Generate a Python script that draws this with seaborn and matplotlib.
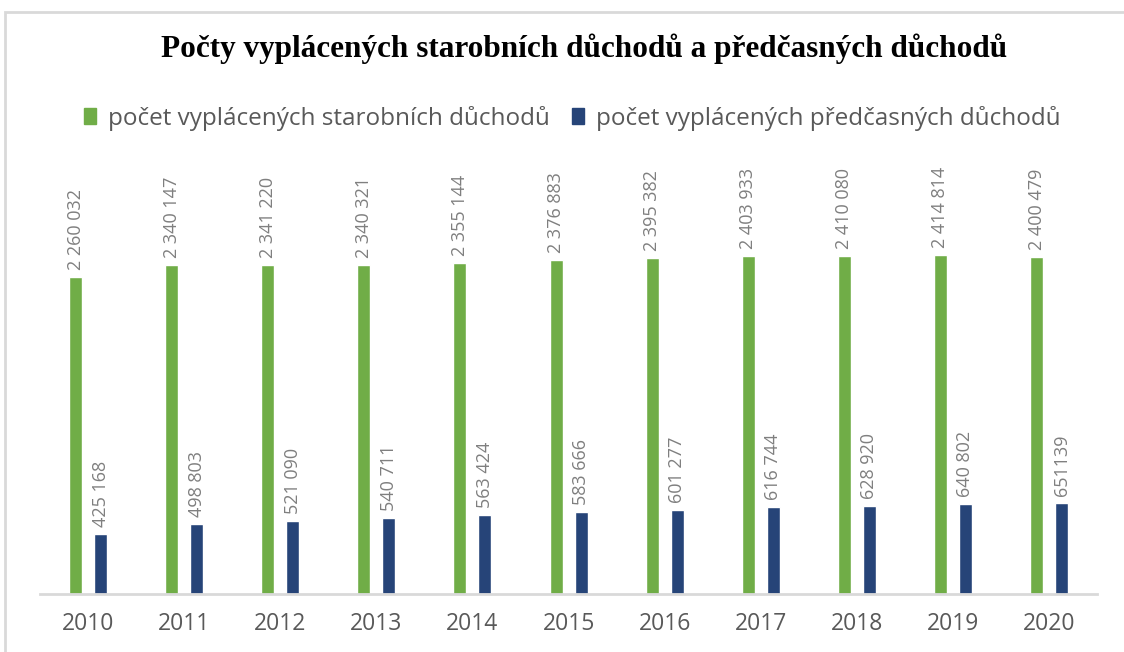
import pandas as pd
import numpy as np
import matplotlib.pyplot as plt
import seaborn as sns
from matplotlib.patches import Rectangle

# --- data ---
years = ['2010', '2011', '2012', '2013', '2014', '2015', '2016', '2017', '2018', '2019', '2020']
starobni = [2260032, 2340147, 2341220, 2340321, 2355144, 2376883, 2395382, 2403933, 2410080, 2414814, 2400479]
predcasne = [425168, 498803, 521090, 540711, 563424, 583666, 601277, 616744, 628920, 640802, 651139]
starobni_labels = ['2 260 032', '2 340 147', '2 341 220', '2 340 321', '2 355 144', '2 376 883',
                   '2 395 382', '2 403 933', '2 410 080', '2 414 814', '2 400 479']
predcasne_labels = ['425 168', '498 803', '521 090', '540 711', '563 424', '583 666',
                    '601 277', '616 744', '628 920', '640 802', '651139']
series_names = ['počet vyplácených starobních důchodů', 'počet vyplácených předčasných důchodů']

df = pd.DataFrame({
    'Rok': years * 2,
    'Počet': starobni + predcasne,
    'Typ': [series_names[0]] * len(years) + [series_names[1]] * len(years),
})

sns.set_theme(style='white')
plt.rcParams['font.family'] = ['Open Sans', 'DejaVu Sans']

fig = plt.figure(figsize=(11.24, 6.52), dpi=100)
ax = fig.add_axes([0.0356, 0.089, 0.9405, 0.70])

sns.barplot(data=df, x='Rok', y='Počet', hue='Typ', palette=['#70AD47', '#264478'],
            saturation=1, width=0.52, gap=0.48, ax=ax, legend=False)

# data labels (rotated, above bars)
for container, labels in zip(ax.containers, [starobni_labels, predcasne_labels]):
    ax.bar_label(container, labels=labels, rotation=90, padding=5,
                 fontsize=13, color='#7f7f7f')

ax.set_xlim(-0.5, 10.5)
ax.set_ylim(0, 3.25e6)
ax.set_xlabel('')
ax.set_ylabel('')
ax.set_yticks([])
for s in ['top', 'right', 'left']:
    ax.spines[s].set_visible(False)
ax.spines['bottom'].set_color('#d9d9d9')
ax.spines['bottom'].set_linewidth(2)
ax.tick_params(axis='x', length=0, pad=13, labelsize=16.5, labelcolor='#595959')

# title
fig.text(0.52, 0.925, 'Počty vyplácených starobních důchodů a předčasných důchodů',
         ha='center', va='center', fontsize=22.5, fontweight='bold',
         family=['Liberation Serif', 'DejaVu Serif'], color='black')

# legend
handles = [Rectangle((0, 0), 1, 1, color=c) for c in ['#70AD47', '#264478']]
leg = fig.legend(handles, series_names, loc='center', bbox_to_anchor=(0.509, 0.819),
                 ncol=2, frameon=False, fontsize=17.5, handlelength=0.5, handleheight=0.6,
                 handletextpad=0.5, columnspacing=0.9)
for t in leg.get_texts():
    t.set_color('#595959')

# outer chart border (clipped at right and bottom like the reference)
fig.patches.append(Rectangle((5 / 1124, -0.05), 1.2, 1 - 12 / 652 + 0.05, transform=fig.transFigure,
                             fill=False, edgecolor='#d9d9d9', linewidth=2))

fig.savefig('out.png', dpi=100)
